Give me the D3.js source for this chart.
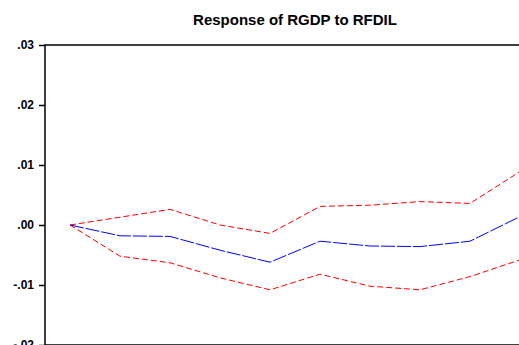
<!DOCTYPE html>
<html>
<head>
<meta charset="utf-8">
<script src="https://cdn.jsdelivr.net/npm/d3@7"></script>
<style>
  html, body { margin: 0; padding: 0; background: #fff; }
  svg { display: block; }
</style>
</head>
<body>
<script>
// Impulse response of RGDP to a shock in RFDIL, with +/- 2 S.E. bands
const periods = [1, 2, 3, 4, 5, 6, 7, 8, 9, 10];
const response = [0.0000, -0.0018, -0.0019, -0.0042, -0.0062, -0.0027, -0.0035, -0.0036, -0.0027, 0.0014];
const upperBand = [0.0000, 0.0013, 0.0026, 0.0000, -0.0014, 0.0031, 0.0033, 0.0039, 0.0036, 0.0089];
const lowerBand = [0.0000, -0.0052, -0.0063, -0.0088, -0.0108, -0.0082, -0.0102, -0.0108, -0.0086, -0.0058];
const yTicks = [0.03, 0.02, 0.01, 0.00, -0.01, -0.02];
const yTickLabels = [".03", ".02", ".01", ".00", "-.01", "-.02"];

const W = 519, H = 345;
const plotLeft = 45, plotTop = 45, plotW = 500, plotH = 300;

const svg = d3.select("body").append("svg")
  .attr("width", W).attr("height", H)
  .style("font-family", "'Liberation Sans', Arial, sans-serif");

const x = d3.scaleLinear().domain([0.5, 10.5]).range([plotLeft, plotLeft + plotW]);
const y = d3.scaleLinear().domain([-0.02, 0.03]).range([plotTop + plotH, plotTop]);

// Title
svg.append("text")
  .attr("x", x(5.5)).attr("y", 25)
  .attr("text-anchor", "middle")
  .style("font-size", "15px").style("font-weight", "bold")
  .text("Response of RGDP to RFDIL");

// Frame
svg.append("rect")
  .attr("x", plotLeft).attr("y", plotTop)
  .attr("width", plotW).attr("height", plotH)
  .attr("fill", "none").attr("stroke", "#000").attr("stroke-width", 1.5);

// Y axis
const yAxis = d3.axisLeft(y)
  .tickValues(yTicks)
  .tickSize(6)
  .tickPadding(5)
  .tickFormat((d, i) => yTickLabels[i]);

const gy = svg.append("g")
  .attr("transform", `translate(${plotLeft},0)`)
  .call(yAxis);
gy.select(".domain").remove();
gy.selectAll(".tick line").attr("stroke", "#000").attr("stroke-width", 1.5);
gy.selectAll(".tick text")
  .style("font-size", "12px").style("font-weight", "bold")
  .style("font-family", "'Liberation Sans', Arial, sans-serif")
  .attr("fill", "#000");

const line = d3.line()
  .x((d, i) => x(periods[i]))
  .y(d => y(d));

svg.append("path")
  .datum(upperBand)
  .attr("d", line)
  .attr("fill", "none").attr("stroke", "#ff0000")
  .attr("stroke-width", 1).attr("stroke-dasharray", "6,3");

svg.append("path")
  .datum(lowerBand)
  .attr("d", line)
  .attr("fill", "none").attr("stroke", "#ff0000")
  .attr("stroke-width", 1).attr("stroke-dasharray", "6,3");

svg.append("path")
  .datum(response)
  .attr("d", line)
  .attr("fill", "none").attr("stroke", "#0000ff")
  .attr("stroke-width", 1).attr("stroke-dasharray", "14,2");
</script>
</body>
</html>
